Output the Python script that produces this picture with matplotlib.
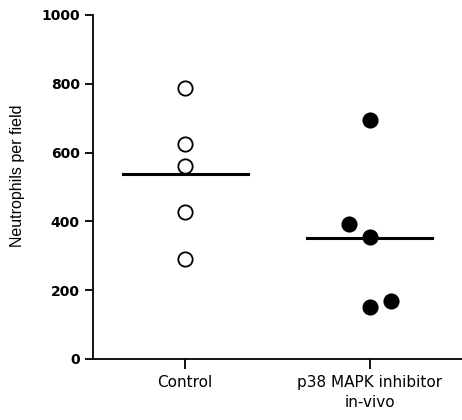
import numpy as np
import matplotlib.pyplot as plt

plt.rcParams['font.family'] = ['DejaVu Sans']

# data
groups = ['Control', 'p38 MAPK inhibitor\nin-vivo']
control_vals = [787, 624, 561, 426, 291]
control_jit = [0, 0, 0, 0, 0]
p38_vals = [695, 392, 354, 152, 169]
p38_jit = [0, -0.114, 0, 0, 0.114]
medians = [539, 352]

fig = plt.figure(figsize=(4.62, 4.2), dpi=100)
ax = fig.add_axes([93 / 462, 61 / 420, 369 / 462, 344 / 420])

ax.plot(np.array(control_jit) + 0, control_vals, 'o', ms=10.3, mfc='white',
        mec='black', mew=1.3, clip_on=False, zorder=3)
ax.plot(np.array(p38_jit) + 1, p38_vals, 'o', ms=10.3, mfc='black',
        mec='black', mew=1.3, clip_on=False, zorder=3)
for i, m in enumerate(medians):
    ax.plot([i - 0.34, i + 0.34], [m, m], color='black', lw=2.2, zorder=2)

ax.set_xlim(-0.5, 1.5)
ax.set_ylim(0, 1000)
ax.set_xticks([0, 1])
ax.set_xticklabels(groups, fontsize=11, linespacing=1.45)
ax.set_yticks([0, 200, 400, 600, 800, 1000])
ax.tick_params(axis='y', labelsize=10, width=1.3, length=6, direction='out', pad=3.5)
ax.tick_params(axis='x', width=1.3, length=7, direction='out', pad=4.5)
for lab in ax.get_yticklabels():
    lab.set_fontweight('bold')
ax.set_ylabel('Neutrophils per field', fontsize=11.5, family='Liberation Sans')
ax.yaxis.set_label_coords(-0.183, 0.532)

ax.spines['top'].set_visible(False)
ax.spines['right'].set_visible(False)
ax.spines['left'].set_linewidth(1.3)
ax.spines['bottom'].set_linewidth(1.3)

fig.savefig('out.png', dpi=100)
